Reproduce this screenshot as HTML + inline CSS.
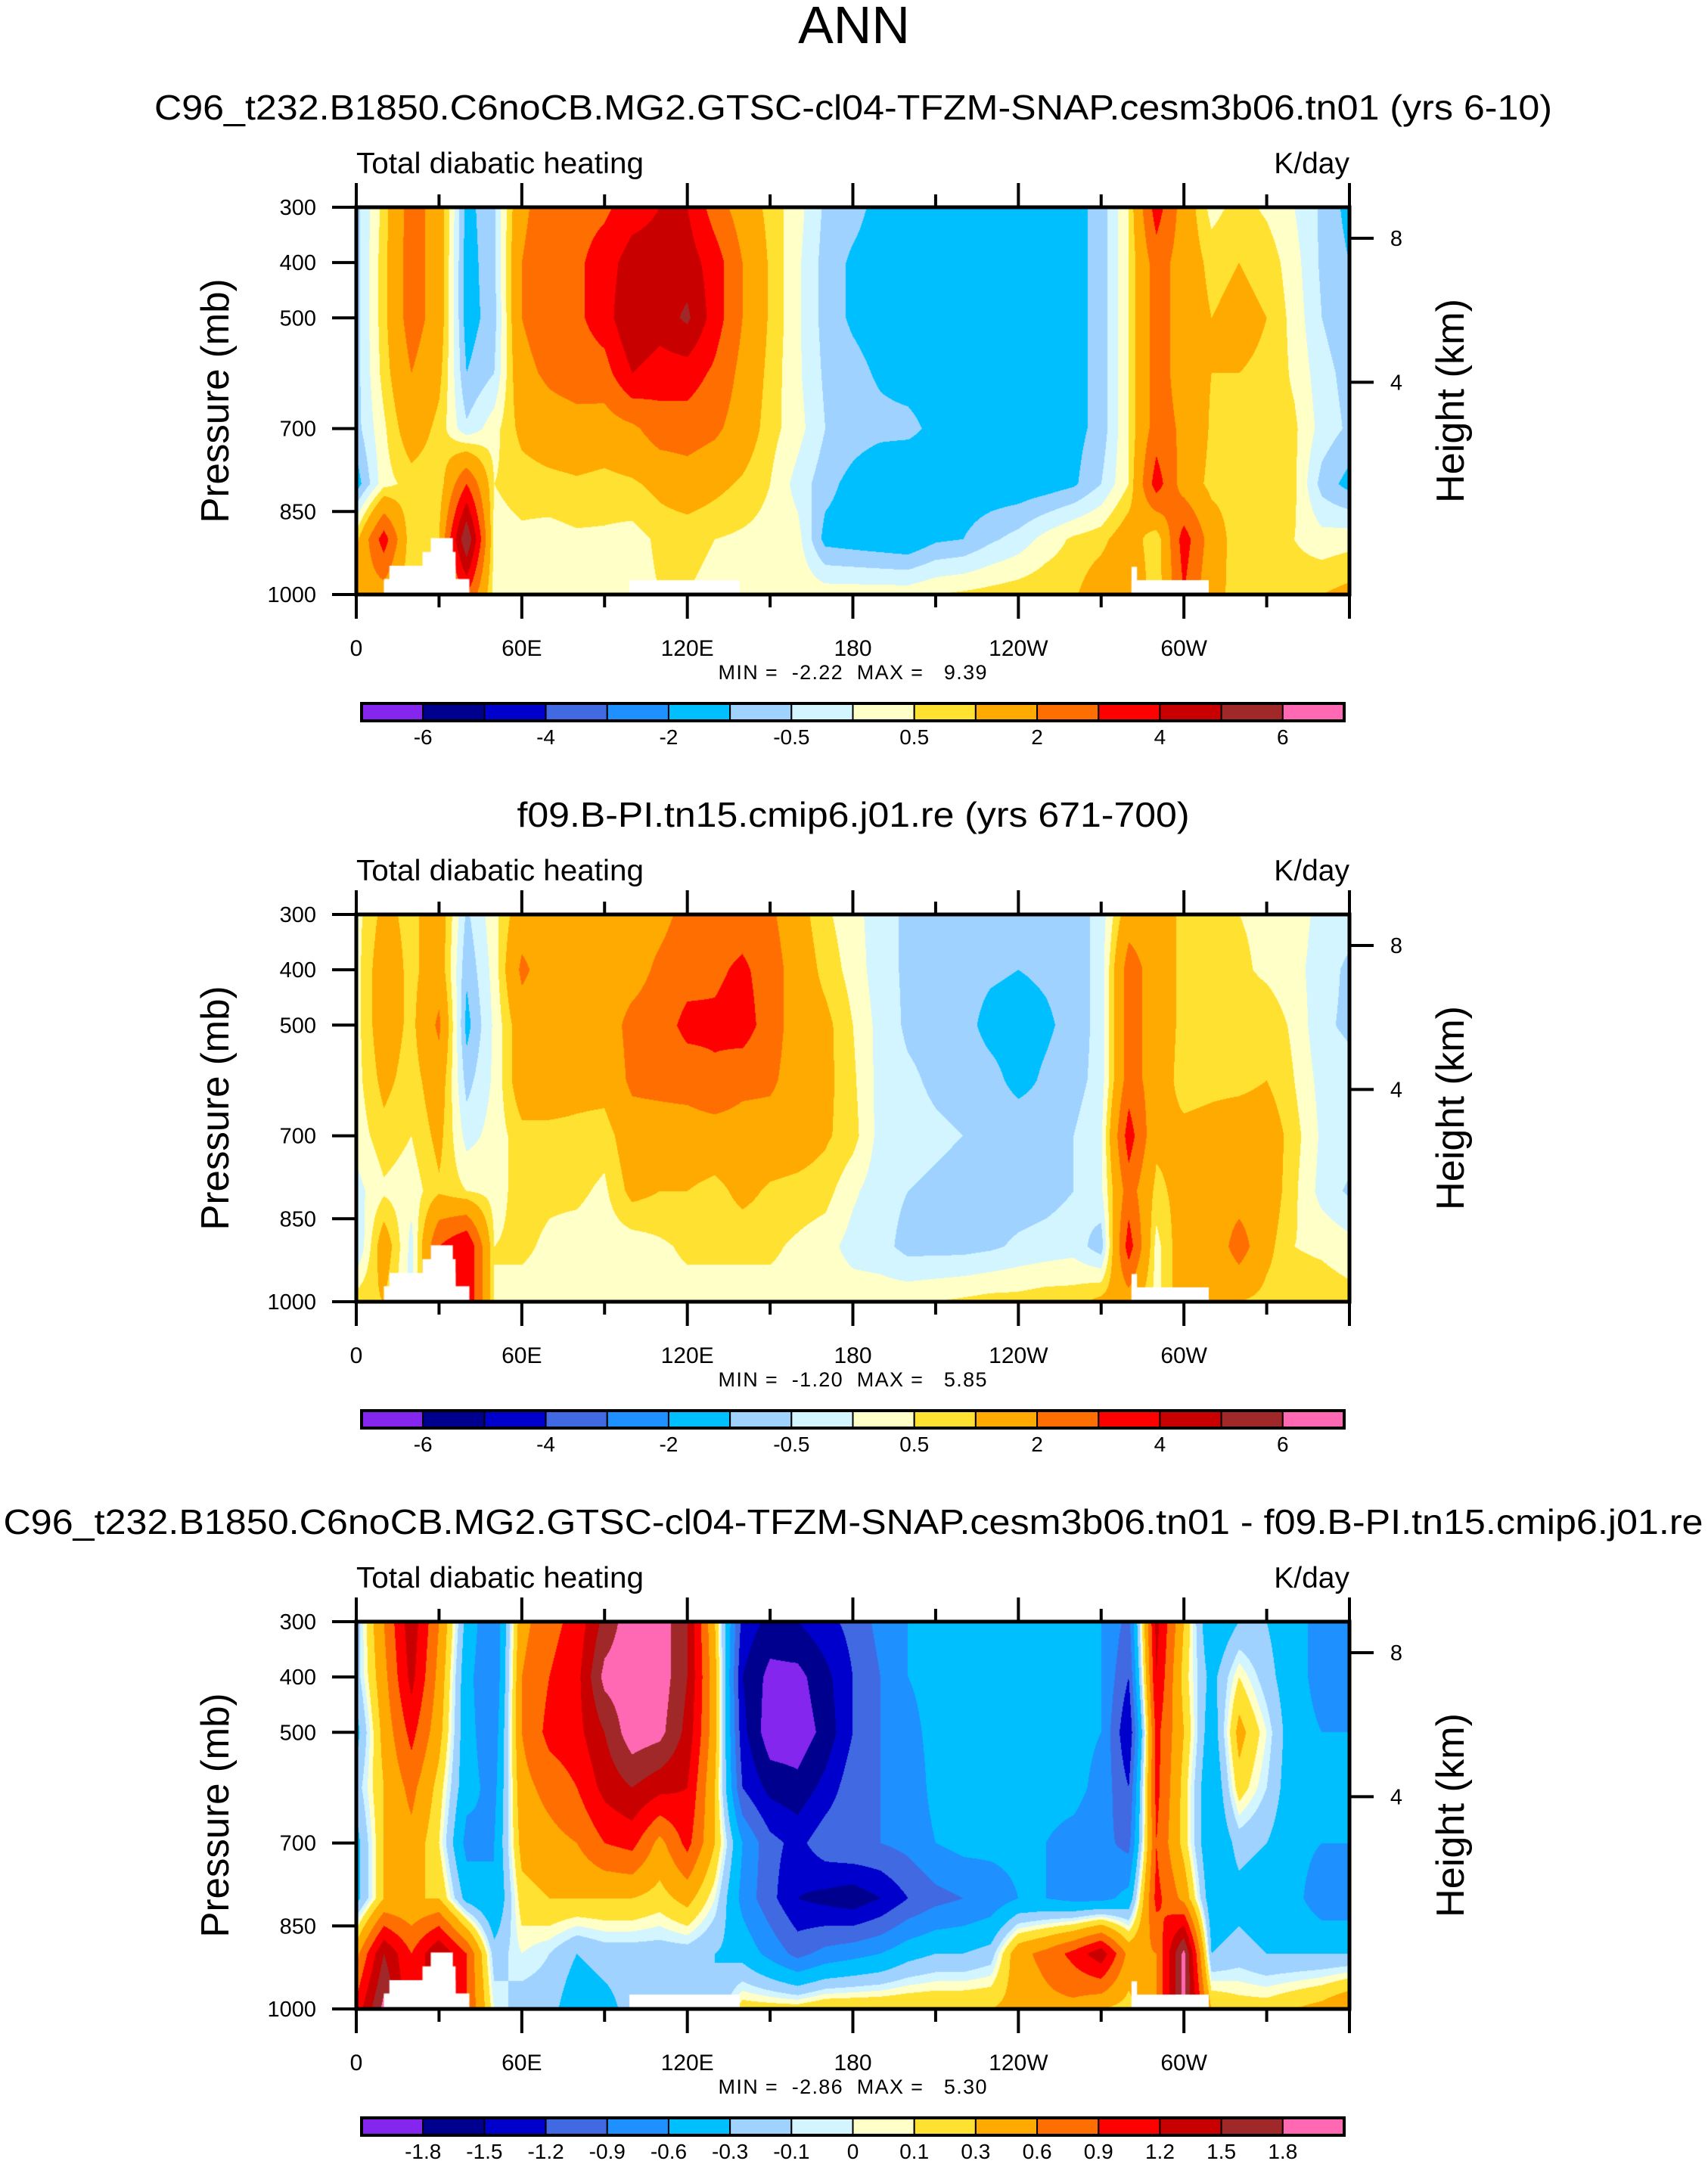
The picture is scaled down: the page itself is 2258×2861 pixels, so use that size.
<!DOCTYPE html>
<html><head><meta charset="utf-8">
<style>
html,body{margin:0;padding:0;background:#fff;}
#wrap{position:relative;width:2258px;height:2861px;overflow:hidden;background:#fff;}
canvas{position:absolute;}
svg{position:absolute;left:0;top:0;}
text{font-family:"Liberation Sans",Helvetica,Arial,sans-serif;fill:#000;white-space:pre;}
</style></head>
<body>
<div id="wrap">
<canvas id="c1"></canvas>
<canvas id="c2"></canvas>
<canvas id="c3"></canvas>
<svg id="svg" width="2258" height="2861"></svg>
</div>
<script>
// ---- data ----
const levels = [300,400,500,600,700,800,900,1000];
const lonStep = 10;
const field1 = [
[-0.7,-0.7,-0.7,-0.7,-0.7,-1.3,0.8,1.5],
[0.7,0.8,0.8,0.7,0.4,0.3,3.5,1.5],
[2.5,2.5,2.5,2,1.5,0.7,0.5,0.5],
[1.5,1.5,1.5,1.2,0.8,0.6,1,1],
[-1.2,-1.3,-1.3,-1,-0.4,3,6,3],
[-0.6,-0.6,-0.7,-0.5,0.3,0.5,0.3,0.3],
[1.8,2,2,1.7,1.2,0.7,0.4,0.3],
[2.5,2.6,2.6,2.2,1.5,0.8,0.3,0.3],
[2.6,2.8,2.8,2.5,1.6,0.9,0.4,0.3],
[2.8,3.5,3.5,2.6,1.5,0.8,0.4,0.3],
[3.5,4.5,5,4,1.8,0.9,0.3,0.3],
[4,4.5,4.5,3.5,2.5,1.2,0.6,0.5],
[4,4.5,5.2,3.5,2.5,1.5,0.6,0.5],
[2.5,3.5,3.5,2.8,2.2,1.2,0.5,0.4],
[1.5,2,2,1.7,1.5,0.9,0.4,0.3],
[0.8,0.9,0.9,0.8,0.7,0.5,0.3,0.3],
[0.2,0.1,0.1,0.1,0.2,-0.2,0.2,0.4],
[-0.6,-0.7,-0.7,-0.6,-0.5,-0.8,-1.2,0.3],
[-0.8,-1.1,-1.1,-0.8,-0.7,-1.2,-1.3,0.3],
[-1.2,-1.3,-1.3,-1.1,-0.8,-1.6,-1.4,0.3],
[-1.3,-1.4,-1.4,-1.3,-0.8,-1.8,-1.5,0.3],
[-1.4,-1.4,-1.4,-1.4,-1.2,-1.5,-1.1,0.5],
[-1.4,-1.4,-1.4,-1.4,-1.3,-1.4,-1,0.6],
[-1.4,-1.4,-1.4,-1.4,-1.4,-1.4,-0.6,0.7],
[-1.4,-1.4,-1.4,-1.4,-1.4,-1.4,-0.3,0.8],
[-1.4,-1.4,-1.4,-1.4,-1.4,-1.3,0.2,0.9],
[-1.2,-1.2,-1.2,-1.2,-1.2,-1.1,0.6,0.9],
[-0.8,-0.8,-0.8,-0.8,-0.8,-0.5,0.8,1.5],
[0.5,0.5,0.5,0.5,0.5,0.5,1.5,2],
[3.5,2.5,2.5,2.5,2.5,3.5,0.5,0.5],
[1.5,1.5,1.5,1.5,1.8,1.5,3.5,3],
[0.3,0.8,1,1,0.9,0.8,1.5,1.2],
[0.7,1,1.2,1,0.9,0.8,0.6,0.8],
[0.4,0.8,1,0.9,0.8,0.7,0.7,0.9],
[0,0.2,0.3,0.4,0.6,0.6,0.5,0.8],
[-0.6,-0.6,-0.5,-0.3,-0.2,-0.7,0.2,1],
[-1.2,-1,-0.9,-0.7,-0.6,-1.2,0.3,1.2]
];
const field2 = [
[0.3,0.3,0.3,0.3,0.2,-0.2,-0.6,0.8],
[1.2,1.5,1.5,1.2,0.8,0.4,1.5,1],
[0.8,0.8,0.8,0.7,0.5,0.2,-0.2,-0.2],
[1.5,1.5,2.2,1.5,1.2,0.9,3,3],
[-0.6,-0.9,-1.2,-0.7,-0.2,0.5,4,4],
[0.3,0.2,0.1,0.1,0.2,0.3,0.5,0.5],
[1.5,2.2,1.5,1.5,0.8,0.7,0.6,0.3],
[1.5,1.5,1.5,1.5,0.8,0.6,0.4,0.3],
[1.5,1.5,1.5,1.3,0.8,0.6,0.3,0.2],
[1.5,1.5,1.5,1.3,0.7,0.4,0.2,0.2],
[1.5,1.6,2.3,2.2,1.5,1.2,0.2,0.2],
[1.7,2.2,2.5,2.3,1.5,1,0.4,0.3],
[2.3,2.6,3.3,2.4,1.5,1,0.6,0.3],
[2.5,2.8,3.2,2.8,1.5,0.8,0.6,0.3],
[2.5,3.2,3.5,2.3,1.5,1.2,0.6,0.3],
[2.2,2.5,2.5,2.2,1.5,0.9,0.6,0.3],
[1.3,1.5,1.5,1.5,1.4,0.8,0.4,0.3],
[0.6,0.8,1.2,1.2,1.1,0.7,0.2,0.3],
[0.2,0.3,0.5,0.6,0.7,0.1,-0.2,0.3],
[-0.3,-0.3,-0.2,-0.2,-0.2,-0.3,-0.3,0.3],
[-0.6,-0.6,-0.6,-0.4,-0.3,-0.5,-0.7,0.4],
[-0.7,-0.7,-0.7,-0.6,-0.4,-0.6,-0.7,0.5],
[-0.7,-0.8,-0.8,-0.7,-0.5,-0.7,-0.7,0.6],
[-0.7,-0.9,-1.2,-0.8,-0.6,-0.8,-0.6,0.7],
[-0.8,-1,-1.3,-1.2,-0.6,-0.8,-0.4,0.7],
[-0.8,-0.9,-1.1,-0.9,-0.7,-0.7,-0.3,0.8],
[-0.8,-0.8,-0.8,-0.7,-0.5,-0.5,-0.2,0.8],
[-0.3,-0.3,-0.3,-0.3,-0.1,-0.1,-0.8,1.2],
[1.5,2.5,2.5,2.5,3.5,2.5,3.5,1.5],
[1.5,1.5,1.5,1.5,1.2,0.8,0.3,0.3],
[0.8,0.8,0.8,0.7,1.2,1.3,1.5,1.5],
[0.7,0.8,0.8,0.8,1.3,1.5,1.2,1],
[0.5,0.6,0.8,0.8,1.5,1.5,2.5,1],
[0.4,0.4,0.8,1,1.5,1.5,1.2,0.8],
[0.3,0.2,0.4,0.5,0.7,0.6,0.5,0.8],
[-0.2,-0.3,-0.4,-0.2,-0.1,-0.2,0.4,0.8],
[-0.3,-0.6,-0.6,-0.3,-0.2,-0.6,0.2,0.7]
];
const field3 = [
[-0.2,-0.2,-0.4,-0.2,-0.4,-0.4,0.5,1],
[0.6,0.5,0.4,0.3,0.3,0.3,1.5,1.9],
[1.4,1.3,1,0.7,0.5,0.3,0.9,0.9],
[0.6,0.5,0.4,0.2,0.1,0.3,1.5,1.5],
[-0.4,-0.5,-0.5,-0.5,-0.7,-0.4,0.9,0.9],
[-0.9,-0.9,-0.8,-0.7,-0.6,-0.6,-0.2,0],
[0.5,0.6,0.6,0.5,0.4,0.2,0,-0.2],
[0.8,0.9,1,0.7,0.5,0.3,-0.1,-0.2],
[1,1.1,1.1,0.9,0.6,0.3,-0.3,-0.5],
[1.6,1.9,1.5,1.3,0.9,0.3,-0.2,-0.4],
[2,2,2,1.5,1,0.3,-0.2,-0.2],
[2,2,1.9,1.3,0.5,0.2,-0.2,-0.2],
[1.5,1.5,1.4,1.2,1,0.4,-0.2,-0.2],
[0.3,0.4,0.4,0.3,0.3,0,-0.3,-0.3],
[-1.3,-1.5,-1.4,-1.2,-0.6,-0.7,-0.4,0.2],
[-1.6,-1.9,-2,-1.6,-1.1,-1.1,-0.7,0.2],
[-1.5,-1.9,-2,-1.7,-1.3,-1.5,-1,0.2],
[-1.3,-1.6,-1.7,-1.4,-1,-1.6,-0.8,0.3],
[-1.1,-1.2,-1.2,-1,-0.9,-1.7,-0.7,0.3],
[-0.8,-0.9,-0.9,-0.9,-0.9,-1.5,-0.6,0.3],
[-0.6,-0.6,-0.7,-0.8,-0.8,-1.2,-0.4,0.3],
[-0.5,-0.5,-0.5,-0.5,-0.6,-1,-0.3,0.3],
[-0.5,-0.5,-0.5,-0.5,-0.5,-0.9,-0.3,0.3],
[-0.5,-0.5,-0.5,-0.5,-0.5,-0.8,-0.2,0.3],
[-0.5,-0.5,-0.4,-0.5,-0.5,-0.6,0.5,0.4],
[-0.5,-0.5,-0.5,-0.5,-0.6,-0.6,0.7,0.5],
[-0.5,-0.5,-0.5,-0.5,-0.7,-0.7,1,0.5],
[-0.6,-0.6,-0.6,-0.7,-0.8,-0.7,1.4,0.3],
[-1,-1.2,-1.5,-1.2,-1,-0.5,0.5,0.2],
[1.3,1.2,1,1,0.9,1,0.6,0.6],
[0.3,0.2,0.3,0.2,0.2,0.5,1.9,1.9],
[-0.6,-0.4,-0.5,-0.6,-0.6,-0.5,-0.3,0.3],
[-0.3,0.1,0.4,0.2,-0.2,-0.4,-0.2,0.2],
[-0.3,-0.2,0,-0.1,-0.3,-0.5,-0.3,0.2],
[-0.5,-0.5,-0.5,-0.5,-0.5,-0.5,-0.3,0.3],
[-0.7,-0.7,-0.6,-0.6,-0.6,-0.8,-0.3,0.4],
[-0.7,-0.7,-0.6,-0.6,-0.6,-0.8,-0.3,0.6]
];
const bounds12 = [-6,-5,-4,-3,-2,-1,-0.5,0,0.5,1,2,3,4,5,6];
const bounds3 = [-1.8,-1.5,-1.2,-0.9,-0.6,-0.3,-0.1,0,0.1,0.3,0.6,0.9,1.2,1.5,1.8];
const cbLabels12 = ["","-6","","-4","","-2","","-0.5","","0.5","","2","","4","","6",""];
const cbLabels3 = ["","-1.8","-1.5","-1.2","-0.9","-0.6","-0.3","-0.1","0","0.1","0.3","0.6","0.9","1.2","1.5","1.8",""];
const palette = ["#8526ef","#00008f","#0000cd","#4169e1","#1e90ff","#00bfff","#a0d2ff","#d2f5ff","#ffffc8","#ffe132","#ffaa00","#ff6e00","#ff0000","#c80000","#a02828","#ff69b4"];
const masksA = [[10,41,972],[12,36,948],[24,36,923],[27,35,898],[99,139,974],[281,309,974],[281,283,950]];
const masksB = [[10,41,972],[12,36,948],[24,36,923],[27,35,898],[281,309,974],[281,283,950]];
const lonTicks = [0,60,120,180,240,300];
const lonTickLabels = ["0","60E","120E","180","120W","60W"];
const pTicks = [300,400,500,700,850,1000];
const zTicks = [4,8];
const panelTitles = ["C96_t232.B1850.C6noCB.MG2.GTSC-cl04-TFZM-SNAP.cesm3b06.tn01 (yrs 6-10)","f09.B-PI.tn15.cmip6.j01.re (yrs 671-700)","C96_t232.B1850.C6noCB.MG2.GTSC-cl04-TFZM-SNAP.cesm3b06.tn01 - f09.B-PI.tn15.cmip6.j01.re"];
const minmax = ["MIN =  -2.22  MAX =   9.39","MIN =  -1.20  MAX =   5.85","MIN =  -2.86  MAX =   5.30"];

// ---- geometry ----
const PX0=471, PX1=1784, PH=512;
const tops=[274,1209,2144];
const titleLens=[1848,889,2247];
const titleX=[1128,1128,1128];
function xOf(lon){return PX0+(lon/360)*(PX1-PX0);}
function yOf(p,top){return top+(p-300)/700*PH;}
function pOfZ(z){return 1013.25*Math.pow(1-2.25577e-5*z*1000,5.256);}

const svg=document.getElementById('svg');
const NS='http://www.w3.org/2000/svg';
function mk(tag,attrs,txt){const e=document.createElementNS(NS,tag);for(const k in attrs)e.setAttribute(k,attrs[k]);if(txt!==undefined)e.textContent=txt;svg.appendChild(e);return e;}
function hex(c){return [parseInt(c.substr(1,2),16),parseInt(c.substr(3,2),16),parseInt(c.substr(5,2),16)];}
const palRGB=palette.map(hex);

function classify(v,b){let i=0;while(i<b.length&&v>=b[i])i++;return i;}
function sample(f,lon,p){
  let fi=lon/lonStep; let i=Math.min(Math.floor(fi),f.length-2); let t=fi-i;
  let fj=(p-300)/100; let j=Math.min(Math.floor(fj),levels.length-2); let u=fj-j;
  const a=f[i][j],b=f[i+1][j],c=f[i][j+1],d=f[i+1][j+1];
  return (a*(1-t)+b*t)*(1-u)+(c*(1-t)+d*t)*u;
}
function drawField(id,f,b,masks,top){
  const cv=document.getElementById(id);
  const W=Math.round(PX1-PX0), H=PH;
  cv.width=W;cv.height=H;cv.style.left=PX0+'px';cv.style.top=top+'px';
  const ctx=cv.getContext('2d');const img=ctx.createImageData(W,H);
  for(let y=0;y<H;y++){const p=300+(y+0.5)/H*700;
    for(let x=0;x<W;x++){const lon=(x+0.5)/W*360;
      const v=sample(f,lon,p);const c=palRGB[classify(v,b)];
      const k=(y*W+x)*4;img.data[k]=c[0];img.data[k+1]=c[1];img.data[k+2]=c[2];img.data[k+3]=255;}}
  ctx.putImageData(img,0,0);
  ctx.fillStyle='#fff';
  masks.forEach(m=>{const x0=m[0]/360*W,x1=m[1]/360*W,y0=(m[2]-300)/700*H;ctx.fillRect(x0,y0,x1-x0,H-y0);});
}
const fields=[field1,field2,field3];
const bset=[bounds12,bounds12,bounds3];
const mset=[masksA,masksB,masksA];
const lset=[cbLabels12,cbLabels12,cbLabels3];
for(let k=0;k<3;k++) drawField('c'+(k+1),fields[k],bset[k],mset[k],tops[k]);

let t=mk('text',{x:1129,y:57,'font-size':70,'text-anchor':'middle'},'ANN');



for(let k=0;k<3;k++){
  const T=tops[k];
  t=mk('text',{x:titleX[k],y:T-116,'font-size':46,'text-anchor':'middle',textLength:titleLens[k],lengthAdjust:'spacingAndGlyphs'},panelTitles[k]);
  
  
  t=mk('text',{x:PX0,y:T-45,'font-size':39,textLength:380,lengthAdjust:'spacingAndGlyphs'},'Total diabatic heating');
  
  
  t=mk('text',{x:1784,y:T-45,'font-size':39,'text-anchor':'end'},'K/day');
  
  
  let r=mk('rect',{x:PX0,y:T,width:PX1-PX0,height:PH,fill:'none',stroke:'#000','stroke-width':5});
  
  
  for(let lon=0;lon<=360;lon+=30){
    const x=xOf(lon);const L=(lon%60===0)?32:17;
    let l=mk('line',{x1:x,x2:x,y1:T+PH,y2:T+PH+L,stroke:'#000','stroke-width':4});
    
    
    l=mk('line',{x1:x,x2:x,y1:T,y2:T-L,stroke:'#000','stroke-width':4});
    
    
  }
  lonTicks.forEach((lon,i)=>{
    const e=mk('text',{x:xOf(lon),y:T+593,'font-size':30,'text-anchor':'middle'},lonTickLabels[i]);
    
    
  });
  pTicks.forEach(p=>{
    const y=yOf(p,T);
    let l=mk('line',{x1:PX0-32,x2:PX0,y1:y,y2:y,stroke:'#000','stroke-width':4});
    
    
    const e=mk('text',{x:418,y:y+10,'font-size':29,'text-anchor':'end'},String(p));
    
    
  });
  zTicks.forEach(z=>{
    const y=yOf(pOfZ(z),T);
    let l=mk('line',{x1:PX1,x2:PX1+32,y1:y,y2:y,stroke:'#000','stroke-width':4});
    
    
    const e=mk('text',{x:1846,y:y+10,'font-size':29,'text-anchor':'middle'},String(z));
    
    
  });
  t=mk('text',{x:0,y:0,'font-size':52,'text-anchor':'middle',textLength:323,lengthAdjust:'spacingAndGlyphs',transform:'translate(302,'+(T+256)+') rotate(-90)'},'Pressure (mb)');
  
  
  t=mk('text',{x:0,y:0,'font-size':52,'text-anchor':'middle',textLength:270,lengthAdjust:'spacingAndGlyphs',transform:'translate(1935,'+(T+256)+') rotate(-90)'},'Height (km)');
  
  
  t=mk('text',{x:1127,y:T+624,'font-size':27,'text-anchor':'middle',textLength:355,lengthAdjust:'spacing'},minmax[k]);
  
  
  const cx0=478,cx1=1777,cy=T+656,ch=23,bw=(cx1-cx0)/16;
  palette.forEach((col,i)=>{
    const e=mk('rect',{x:cx0+i*bw,y:cy,width:bw,height:ch,fill:col,stroke:'#000','stroke-width':2});
    
    
  });
  let fr=mk('rect',{x:cx0,y:cy,width:cx1-cx0,height:ch,fill:'none',stroke:'#000','stroke-width':4});
  
  
  lset[k].forEach((lab,i)=>{
    if(!lab)return;
    const e=mk('text',{x:cx0+i*bw,y:T+710,'font-size':28,'text-anchor':'middle'},lab);
    
    
  });
}
</script>
</body></html>
